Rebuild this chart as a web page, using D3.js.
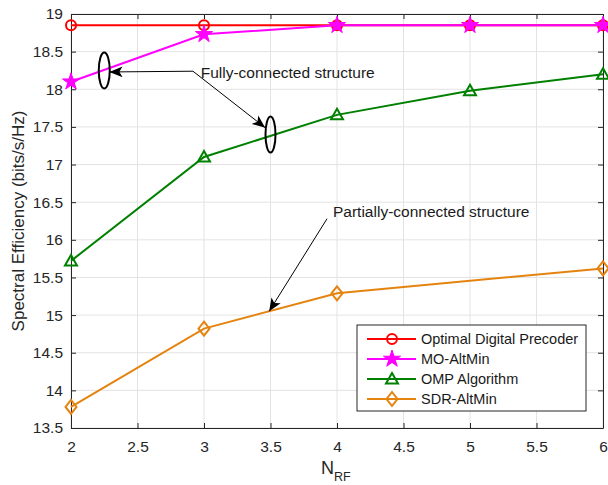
<html>
<head>
<style>
  body { margin: 0; background: white; font-family: "Liberation Sans", Arial, sans-serif; }
</style>
<script src="https://cdn.jsdelivr.net/npm/d3@7"></script>
</head>
<body>
<svg id="chart" width="608" height="485"></svg>
<script>

let xTicks = [2, 2.5, 3, 3.5, 4, 4.5, 5, 5.5, 6]
let yTicks = [13.5, 14, 14.5, 15, 15.5, 16, 16.5, 17, 17.5, 18, 18.5, 19]

let optimalX = [2, 3, 4, 5, 6]
let optimalY = [18.85, 18.85, 18.85, 18.85, 18.85]
let moX = [2, 3, 4, 5, 6]
let moY = [18.10, 18.73, 18.85, 18.85, 18.85]
let ompX = [2, 3, 4, 5, 6]
let ompY = [15.72, 17.10, 17.66, 17.98, 18.20]
let sdrX = [2, 3, 4, 6]
let sdrY = [13.78, 14.82, 15.29, 15.62]

let series = [
  {name: "Optimal Digital Precoder", xs: optimalX, ys: optimalY, color: "#ff0000", marker: "circle"},
  {name: "MO-AltMin", xs: moX, ys: moY, color: "#ff00ff", marker: "star"},
  {name: "OMP Algorithm", xs: ompX, ys: ompY, color: "#008000", marker: "triangle"},
  {name: "SDR-AltMin", xs: sdrX, ys: sdrY, color: "#e5830f", marker: "diamond"}
]

let margin = {left: 71, right: 5, top: 14, bottom: 57}
let width = 608, height = 485
let svg = d3.select("#chart")

let x = d3.scaleLinear().domain([2, 6]).range([margin.left, width - margin.right])
let y = d3.scaleLinear().domain([13.5, 19]).range([height - margin.bottom, margin.top])

// grid
svg.append("g").selectAll("line").data(xTicks).enter().append("line")
  .attr("x1", d => x(d)).attr("x2", d => x(d))
  .attr("y1", y(13.5)).attr("y2", y(19))
  .attr("stroke", "#e3e3e3").attr("stroke-width", 1)
svg.append("g").selectAll("line").data(yTicks).enter().append("line")
  .attr("y1", d => y(d)).attr("y2", d => y(d))
  .attr("x1", x(2)).attr("x2", x(6))
  .attr("stroke", "#e3e3e3").attr("stroke-width", 1)

// axes
let axisColor = "#262626"
let xAxis = svg.append("g").attr("transform", `translate(0,${y(13.5)})`)
  .call(d3.axisBottom(x).tickValues(xTicks).tickSizeInner(-5).tickSizeOuter(0).tickPadding(13).tickFormat(d3.format("")))
let xTop = svg.append("g").attr("transform", `translate(0,${y(19)})`)
  .call(d3.axisTop(x).tickValues(xTicks).tickSizeInner(-5).tickSizeOuter(0).tickFormat(""))
let yAxis = svg.append("g").attr("transform", `translate(${x(2)},0)`)
  .call(d3.axisLeft(y).tickValues(yTicks).tickSizeInner(-5).tickSizeOuter(0).tickPadding(8).tickFormat(d3.format("")))
let yRight = svg.append("g").attr("transform", `translate(${x(6)},0)`)
  .call(d3.axisRight(y).tickValues(yTicks).tickSizeInner(-5).tickSizeOuter(0).tickFormat(""))

for (let a of [xAxis, xTop, yAxis, yRight]) {
  a.selectAll("path,line").attr("stroke", axisColor)
  a.selectAll("text").attr("fill", axisColor).style("font-size", "15.5px")
    .style("font-family", "'Liberation Sans', Arial, sans-serif")
}

// marker drawing
function drawMarker(g, type, cx, cy, color) {
  if (type === "circle") {
    g.append("circle").attr("cx", cx).attr("cy", cy).attr("r", 5)
      .attr("fill", "none").attr("stroke", color).attr("stroke-width", 2)
  } else if (type === "star") {
    g.append("path").attr("d", d3.symbol().type(d3.symbolStar).size(90)())
      .attr("transform", `translate(${cx},${cy})`)
      .attr("fill", color).attr("stroke", color).attr("stroke-width", 1)
  } else if (type === "triangle") {
    g.append("path").attr("d", `M${cx},${cy - 6}L${cx + 6},${cy + 4.5}L${cx - 6},${cy + 4.5}Z`)
      .attr("fill", "none").attr("stroke", color).attr("stroke-width", 2)
  } else if (type === "diamond") {
    g.append("path").attr("d", `M${cx},${cy - 7}L${cx + 5.5},${cy}L${cx},${cy + 7}L${cx - 5.5},${cy}Z`)
      .attr("fill", "none").attr("stroke", color).attr("stroke-width", 2)
  }
}

let line = d3.line().x(d => x(d[0])).y(d => y(d[1]))
let plot = svg.append("g")
for (let s of series) {
  let pts = s.xs.map((v, i) => [v, s.ys[i]])
  plot.append("path").datum(pts).attr("d", line)
    .attr("fill", "none").attr("stroke", s.color).attr("stroke-width", 2)
  for (let p of pts) drawMarker(plot, s.marker, x(p[0]), y(p[1]), s.color)
}

// annotations
svg.append("defs").append("marker").attr("id", "ah")
  .attr("viewBox", "0 0 12 10").attr("refX", 12).attr("refY", 5)
  .attr("markerWidth", 13).attr("markerHeight", 11).attr("markerUnits", "userSpaceOnUse")
  .attr("orient", "auto")
  .append("path").attr("d", "M0,0L12,5L0,10L3,5Z").attr("fill", "black")

let ann = svg.append("g")
ann.append("ellipse").attr("cx", x(2.25)).attr("cy", y(18.25)).attr("rx", 5.5).attr("ry", 18)
  .attr("fill", "none").attr("stroke", "black").attr("stroke-width", 2)
ann.append("ellipse").attr("cx", x(3.5)).attr("cy", y(17.4)).attr("rx", 5).attr("ry", 18)
  .attr("fill", "none").attr("stroke", "black").attr("stroke-width", 2)

ann.append("line").attr("x1", x(2.917)).attr("y1", y(18.24)).attr("x2", x(2.29)).attr("y2", y(18.23))
  .attr("stroke", "black").attr("stroke-width", 1).attr("marker-end", "url(#ah)")
ann.append("line").attr("x1", x(2.917)).attr("y1", y(18.24)).attr("x2", x(3.46)).attr("y2", y(17.49))
  .attr("stroke", "black").attr("stroke-width", 1).attr("marker-end", "url(#ah)")
ann.append("text").attr("x", x(2.975)).attr("y", y(18.15)).text("Fully-connected structure")
  .style("font-size", "15.5px").attr("fill", "#1a1a1a")

ann.append("line").attr("x1", x(3.925)).attr("y1", y(16.28)).attr("x2", x(3.49)).attr("y2", y(15.05))
  .attr("stroke", "black").attr("stroke-width", 1).attr("marker-end", "url(#ah)")
ann.append("text").attr("x", x(3.97)).attr("y", y(16.3)).text("Partially-connected structure")
  .style("font-size", "15.5px").attr("fill", "#1a1a1a")

// legend
let lg = svg.append("g").attr("transform", "translate(357,325)")
lg.append("rect").attr("width", 229).attr("height", 86)
  .attr("fill", "white").attr("stroke", "#262626").attr("stroke-width", 1)
series.forEach((s, i) => {
  let cy = 14 + i * 20
  lg.append("line").attr("x1", 10).attr("x2", 59).attr("y1", cy).attr("y2", cy)
    .attr("stroke", s.color).attr("stroke-width", 2)
  drawMarker(lg, s.marker, 35, cy, s.color)
  lg.append("text").attr("x", 64).attr("y", cy + 5).text(s.name)
    .style("font-size", "14.5px").attr("fill", "#1a1a1a")
})

// axis labels
svg.append("text").attr("transform", `translate(24,${(y(13.5) + y(19)) / 2}) rotate(-90)`)
  .attr("text-anchor", "middle").style("font-size", "17px").attr("fill", axisColor)
  .text("Spectral Efficiency (bits/s/Hz)")
let xl = svg.append("text").attr("x", 321).attr("y", 474)
  .style("font-size", "18px").attr("fill", axisColor)
xl.append("tspan").text("N")
xl.append("tspan").attr("dy", 7).style("font-size", "12.5px").text("RF")

</script>
</body>
</html>
